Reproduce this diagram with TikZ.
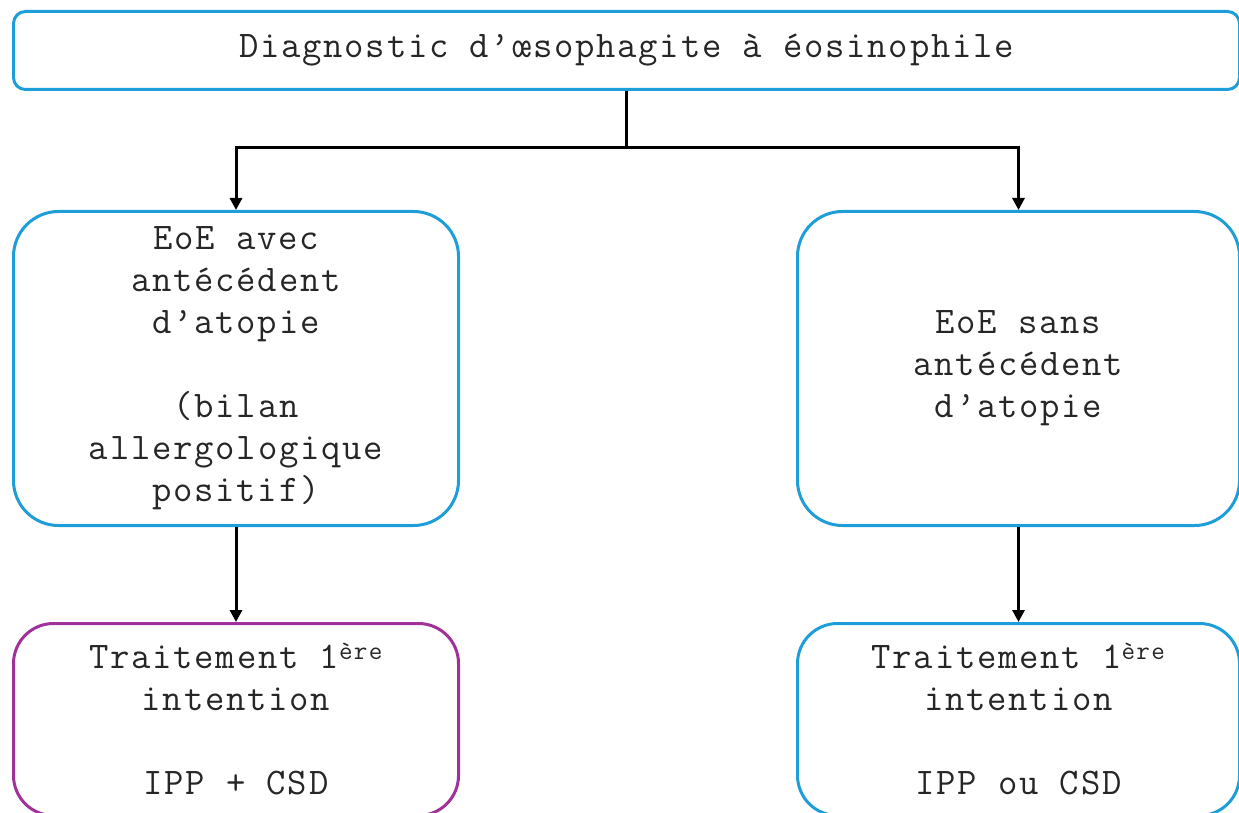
\documentclass[tikz,border=0pt]{standalone}
\usepackage{fontspec}
\setmonofont{Latin Modern Mono}[LetterSpace=4.7]
\usetikzlibrary{arrows.meta}
\definecolor{eoeblue}{HTML}{1E9ED9}
\definecolor{eoepurple}{HTML}{A0309A}
\definecolor{txt}{HTML}{262626}
\tikzset{
  box/.style={draw=eoeblue, line width=3pt, anchor=north west, inner sep=0pt,
    align=center, text=txt, font=\ttfamily\fontsize{37.6}{42}\selectfont},
  conn/.style={draw=black, line width=3pt},
  arr/.style={conn, -{Triangle[length=12pt,width=12pt]}}
}
\begin{document}
\begin{tikzpicture}[x=1pt,y=-1pt]
\useasboundingbox (0,0) rectangle (1239,813);
\node[box, minimum width=1226pt, minimum height=78pt, rounded corners=12pt] (top) at (12,10)
  {Diagnostic d’œsophagite à éosinophile};
\node[box, minimum width=445pt, minimum height=314pt, rounded corners=45pt] (lm) at (12,210)
  {EoE avec\\antécédent\\d’atopie\\[42pt](bilan\\allergologique\\positif)};
\node[box, minimum width=442pt, minimum height=314pt, rounded corners=45pt] (rm) at (796,210)
  {EoE sans\\antécédent\\d’atopie};
\node[box, draw=eoepurple, minimum width=445pt, minimum height=192pt, rounded corners=40pt] (bl) at (12,622)
  {Traitement 1\textsuperscript{ère}\\intention\\[42pt]IPP + CSD};
\node[box, minimum width=442pt, minimum height=192pt, rounded corners=40pt] (br) at (796,622)
  {Traitement 1\textsuperscript{ère}\\intention\\[42pt]IPP ou CSD};
\coordinate (s) at (top.south |- 0,148);
\draw[conn] (top.south) -- (s);
\draw[arr] (s) -| (lm.north);
\draw[arr] (s) -| (rm.north);
\draw[arr] (lm.south) -- (bl.north);
\draw[arr] (rm.south) -- (br.north);
\end{tikzpicture}
\end{document}
